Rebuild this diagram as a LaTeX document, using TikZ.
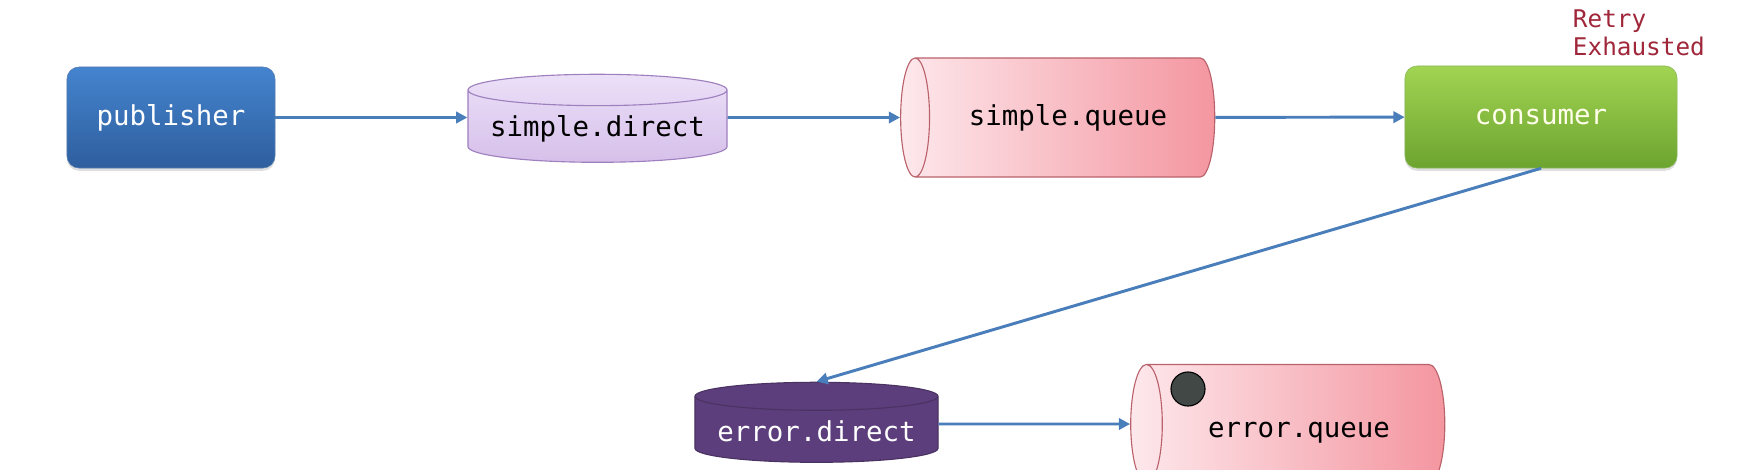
\documentclass[tikz,border=0pt]{standalone}
\usepackage{fontspec}
\setmonofont{DejaVu Sans Mono}
\usepackage{tikz}
\usetikzlibrary{shapes.geometric, arrows.meta, shadows}

\definecolor{flow}{RGB}{74,126,187}
\definecolor{pubtop}{RGB}{68,132,206}
\definecolor{pubbot}{RGB}{46,94,158}
\definecolor{contop}{RGB}{162,212,82}
\definecolor{conbot}{RGB}{108,164,48}
\definecolor{lavtop}{RGB}{236,224,248}
\definecolor{lavbot}{RGB}{214,192,234}
\definecolor{lavline}{RGB}{158,128,190}
\definecolor{qleft}{RGB}{253,232,236}
\definecolor{qright}{RGB}{244,150,160}
\definecolor{qline}{RGB}{186,98,108}
\definecolor{errpurple}{RGB}{92,62,124}
\definecolor{retryred}{RGB}{160,38,58}
\definecolor{msggray}{RGB}{66,72,70}

\begin{document}
\begin{tikzpicture}[x=0.025cm, y=-0.025cm,
  every node/.style={font=\fontsize{19.5pt}{23pt}\ttfamily},
  flow/.style={-{Triangle[length=8pt, width=8pt]}, color=flow, line width=2.1pt}]
\useasboundingbox (0, 0) rectangle (1760, 469);
\clip (0, 0) rectangle (1760, 469);

\node[rounded corners=0.3cm, minimum width=5.2cm, minimum height=2.525cm, top color=pubtop, bottom color=pubbot, draw=pubbot!80!white, text=white,
  drop shadow={shadow xshift=0pt, shadow yshift=-2pt, opacity=0.25}] (publisher) at (171, 117.5) {publisher};

\node[cylinder, shape border rotate=90, aspect=0.14, minimum width=6.475cm, minimum height=2.2cm, top color=lavtop, bottom color=lavbot, draw=lavline, line width=0.8pt] (simple direct) at (597.5, 128.5) {simple.direct};

\node[cylinder, shape border rotate=180, aspect=0.8, minimum height=7.85cm, minimum width=2.975cm, left color=qleft, right color=qright, draw=qline, line width=0.8pt] (simple queue) at (1068, 117.5) {simple.queue};

\node[rounded corners=0.3cm, minimum width=6.8cm, minimum height=2.55cm, top color=contop, bottom color=conbot, draw=conbot!80!white, text=white!92!yellow,
  drop shadow={shadow xshift=0pt, shadow yshift=-2pt, opacity=0.25}] (consumer) at (1541, 117) {consumer};

\node[anchor=north west, align=left, text=retryred, font=\fontsize{17.3pt}{20pt}\ttfamily] (retry) at (1568, 5) {Retry\\Exhausted};

\node[cylinder, shape border rotate=90, aspect=0.135, minimum width=6.075cm, minimum height=2.0cm, fill=errpurple, draw=errpurple!80!black, line width=0.8pt, text=white] (error direct) at (816.5, 431.5) {error.direct};

\node[cylinder, shape border rotate=180, aspect=0.65, minimum height=7.85cm, minimum width=2.975cm, left color=qleft, right color=qright, draw=qline, line width=0.8pt, text height=0.82cm, text depth=0.16cm] (error queue) at (1299, 424) {error.queue};

\node[circle, minimum size=0.85cm, inner sep=0pt, fill=msggray, draw=black, line width=0.8pt] (message) at (1188, 389) {};

\draw[flow] (publisher) -- (simple direct.west |- publisher) {};
\draw[flow] (simple direct.east |- simple queue) -- (simple queue) {};
\draw[flow] (simple queue) -- (consumer) {};
\draw[flow] (consumer.south) -- (error direct.north) {};
\draw[flow] (error direct.east |- error queue) -- (error queue) {};
\end{tikzpicture}
\end{document}
